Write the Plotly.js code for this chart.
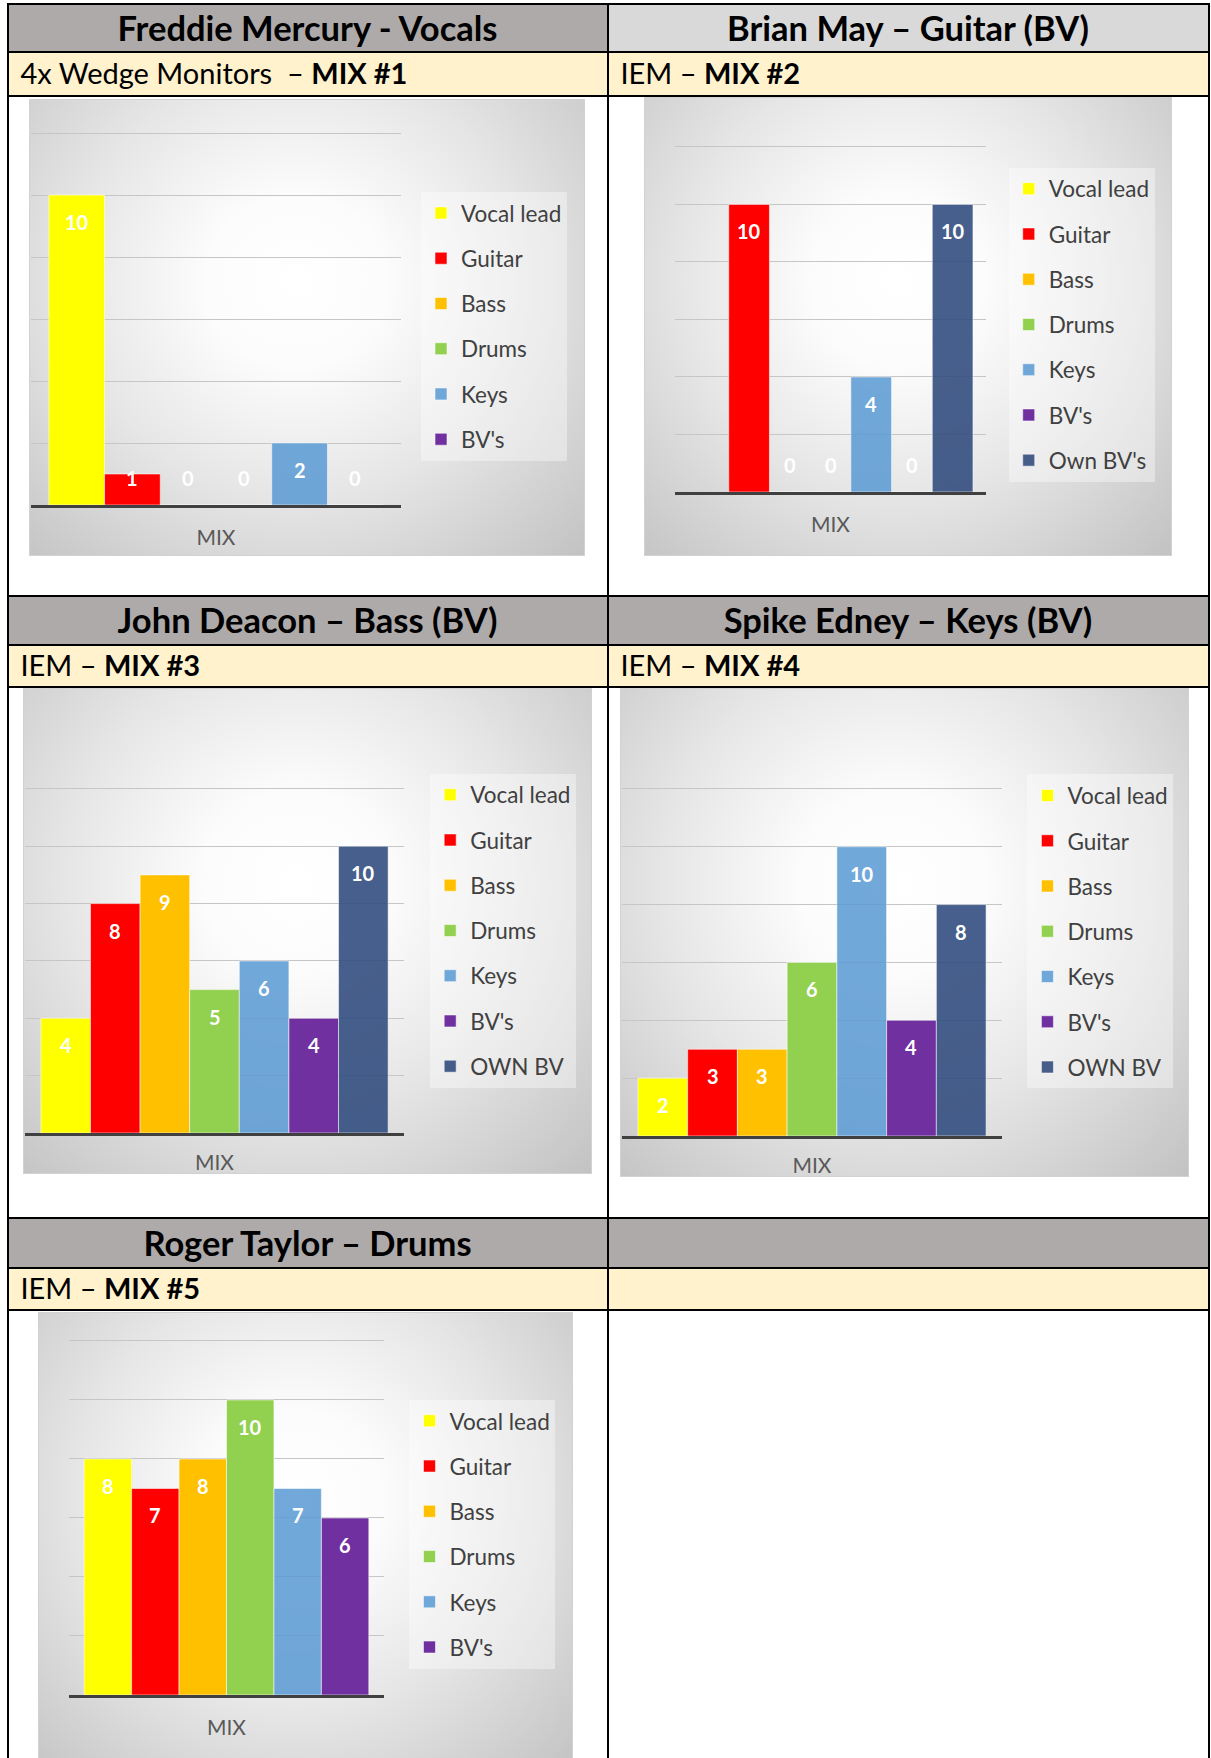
<!DOCTYPE html>
<html>
<head>
<meta charset="utf-8">
<script src="https://cdn.plot.ly/plotly-3.0.1.min.js"></script>
<style>
  html, body { margin: 0; padding: 0; }
  body { width: 1211px; height: 1758px; position: relative; overflow: hidden; background: #ffffff; font-family: Lato, "Open Sans", sans-serif; }
  .bg { position: absolute; }
  .hl { position: absolute; height: 2px; background: #000; left: 6.5px; width: 1203px; }
  .vl { position: absolute; width: 2px; background: #000; top: 3px; height: 1760px; }
  .hdr { position: absolute; display: flex; align-items: center; justify-content: center; font-weight: 700; font-size: 34.5px; color: #000; white-space: pre; }
  .sub { position: absolute; display: flex; align-items: center; font-size: 29px; color: #000; white-space: pre; }
  .chartbox { position: absolute; overflow: hidden; box-shadow: inset 0 0 0 1px #d2d2d2;
    background: radial-gradient(ellipse farthest-corner at 48% 40%, #ffffff 0%, #fcfcfc 22%, #e6e6e6 55%, #c2c2c2 100%); }
</style>
</head>
<body>
<div id="table"></div>
<div id="c1" class="chartbox"></div>
<div id="c2" class="chartbox"></div>
<div id="c3" class="chartbox"></div>
<div id="c4" class="chartbox"></div>
<div id="c5" class="chartbox"></div>
<script>
// ---------- data ----------
const instrumentsBasic = ["Vocal lead", "Guitar", "Bass", "Drums", "Keys", "BV's"];
const instrumentsBrian = ["Vocal lead", "Guitar", "Bass", "Drums", "Keys", "BV's", "Own BV's"];
const instrumentsOwn = ["Vocal lead", "Guitar", "Bass", "Drums", "Keys", "BV's", "OWN BV"];

const freddieValues = [10, 1, 0, 0, 2, 0];
const brianValues = [null, 10, 0, 0, 4, 0, 10];
const johnValues = [4, 8, 9, 5, 6, 4, 10];
const spikeValues = [2, 3, 3, 6, 10, 4, 8];
const rogerValues = [8, 7, 8, 10, 7, 6];

const axisLabel = "MIX";

const headerTitles = ["Freddie Mercury - Vocals", "Brian May \u2013 Guitar (BV)", "John Deacon \u2013 Bass (BV)", "Spike Edney \u2013 Keys (BV)", "Roger Taylor \u2013 Drums", ""];
const subPrefixes = ["4x Wedge Monitors  \u2013 ", "IEM \u2013 ", "IEM \u2013 ", "IEM \u2013 ", "IEM \u2013 ", ""];
const subMixes = ["MIX #1", "MIX #2", "MIX #3", "MIX #4", "MIX #5", ""];

// ---------- styles ----------
const barColors = ["#ffff00", "#ff0000", "#ffc000", "#92d050", "#5b9bd5", "#7030a0", "#2f4a7d"];
const barOpacity = [1, 1, 1, 1, 0.86, 1, 0.88];

// ---------- table ----------
const T = document.getElementById('table');
function addDiv(cls, css, html) {
  const d = document.createElement('div');
  d.className = cls;
  Object.assign(d.style, css);
  if (html !== undefined) d.innerHTML = html;
  T.appendChild(d);
  return d;
}
const colX = [7.5, 607.5, 1208.5];
const rows = [
  {h0: 4, h1: 52, s1: 96},
  {h0: 595.5, h1: 645, s1: 687},
  {h0: 1218, h1: 1268, s1: 1310}
];
const hdrColors = [["#aeaaaa", "#d9d9d9"], ["#aeaaaa", "#aeaaaa"], ["#aeaaaa", "#aeaaaa"]];
rows.forEach((r, ri) => {
  for (let c = 0; c < 2; c++) {
    const idx = ri * 2 + c;
    const x0 = colX[c], x1 = colX[c + 1];
    addDiv('bg', {left: x0 + 'px', top: r.h0 + 'px', width: (x1 - x0) + 'px', height: (r.h1 - r.h0) + 'px', background: hdrColors[ri][c]});
    addDiv('bg', {left: x0 + 'px', top: r.h1 + 'px', width: (x1 - x0) + 'px', height: (r.s1 - r.h1) + 'px', background: '#fff2cc'});
    addDiv('hdr', {left: x0 + 'px', top: (r.h0 - 1) + 'px', width: (x1 - x0) + 'px', height: (r.h1 - r.h0) + 'px'}, headerTitles[idx]);
    addDiv('sub', {left: (x0 + 13) + 'px', top: (r.h1 - 1.5) + 'px', width: (x1 - x0 - 13) + 'px', height: (r.s1 - r.h1) + 'px'},
      subPrefixes[idx] + (subMixes[idx] ? '<b>' + subMixes[idx] + '</b>' : ''));
  }
  [r.h0, r.h1, r.s1].forEach(y => addDiv('hl', {top: (y - 1) + 'px'}));
});
colX.forEach(x => addDiv('vl', {left: (x - 1) + 'px'}));

// ---------- charts ----------
const charts = [
  {id: 'c1', cats: instrumentsBasic, vals: freddieValues, box: [29, 99, 585, 556], plot: [31, 401, 133.2, 507], legend: [421, 192]},
  {id: 'c2', cats: instrumentsBrian, vals: brianValues, box: [643.5, 97, 1172, 556], plot: [674.6, 985.3, 146.9, 493.6], legend: [1008, 167.6]},
  {id: 'c3', cats: instrumentsOwn, vals: johnValues, box: [22.6, 687.5, 592, 1173.5], plot: [24.5, 403.8, 788.1, 1134], legend: [430, 772.8]},
  {id: 'c4', cats: instrumentsOwn, vals: spikeValues, box: [619.7, 688, 1189.3, 1176.6], plot: [621.6, 1001.1, 788.5, 1136.8], legend: [1026.5, 774]},
  {id: 'c5', cats: instrumentsBasic, vals: rogerValues, box: [38, 1311.5, 573, 1775], plot: [68.9, 384, 1340.4, 1695.8], legend: [409.5, 1399.1]}
];

function drawChart(c) {
  const [bx0, by0, bx1, by1] = c.box;
  const [px0, px1, yTop, yBase] = c.plot;
  const el = document.getElementById(c.id);
  const W = bx1 - bx0, H = by1 - by0;
  Object.assign(el.style, {left: bx0 + 'px', top: by0 + 'px', width: W + 'px', height: H + 'px'});
  const plotBottom = yBase - 1.5;
  const ppu = (plotBottom - yTop) / 12;
  const yMax = 12.1;
  const plotTop = plotBottom - yMax * ppu;
  const plotW = px1 - px0, plotH = plotBottom - plotTop;
  const n = c.cats.length;

  const traces = c.cats.map((name, i) => ({
    type: 'bar', x: [name], y: [c.vals[i]], name: name, legendgroup: name,
    opacity: barOpacity[i],
    marker: {color: barColors[i], line: {color: 'rgba(255,255,255,0.55)', width: 1}},
    hoverinfo: 'skip'
  }));

  const annotations = [];
  c.cats.forEach((name, i) => {
    const v = c.vals[i];
    if (v === null || v === undefined) return;
    const tall = v * ppu >= 54;
    annotations.push({
      x: name, y: tall ? v : 0, xref: 'x', yref: 'y', yshift: tall ? -27 : 27,
      text: '<b>' + v + '</b>', showarrow: false,
      font: {family: 'Lato, sans-serif', size: 20, color: '#ffffff'}
    });
  });

  const layout = {
    width: W, height: H,
    margin: {l: px0 - bx0, r: bx1 - px1, t: plotTop - by0, b: by1 - plotBottom, pad: 0, autoexpand: false},
    paper_bgcolor: 'rgba(0,0,0,0)', plot_bgcolor: 'rgba(0,0,0,0)',
    barmode: 'overlay', bargap: 0,
    showlegend: true,
    font: {family: 'Lato, sans-serif'},
    xaxis: {
      type: 'category', range: [-0.82, n - 0.18], showticklabels: false, ticks: '',
      showgrid: false, zeroline: false, showline: true, linecolor: '#404040', linewidth: 3,
      title: {text: axisLabel, font: {family: 'Lato, sans-serif', size: 21, color: '#595959'}, standoff: 23.5},
      fixedrange: true
    },
    yaxis: {
      range: [0, yMax], tick0: 0, dtick: 2, showticklabels: false, ticks: '',
      showgrid: true, gridcolor: '#c6c6c6', gridwidth: 1, zeroline: false, showline: false, fixedrange: true
    },
    legend: {
      x: (c.legend[0] - px0) / plotW, y: 1 - (c.legend[1] - plotTop) / plotH,
      xanchor: 'left', yanchor: 'top', orientation: 'v',
      bgcolor: 'rgba(255,255,255,0.38)', borderwidth: 0,
      font: {family: 'Lato, sans-serif', size: 22.5, color: '#404040'},
      tracegroupgap: 13, traceorder: 'grouped', maxheight: 600
    },
    annotations: annotations
  };
  Plotly.newPlot(el, traces, layout, {staticPlot: true, displayModeBar: false});
}
charts.forEach(drawChart);
</script>
</body>
</html>
